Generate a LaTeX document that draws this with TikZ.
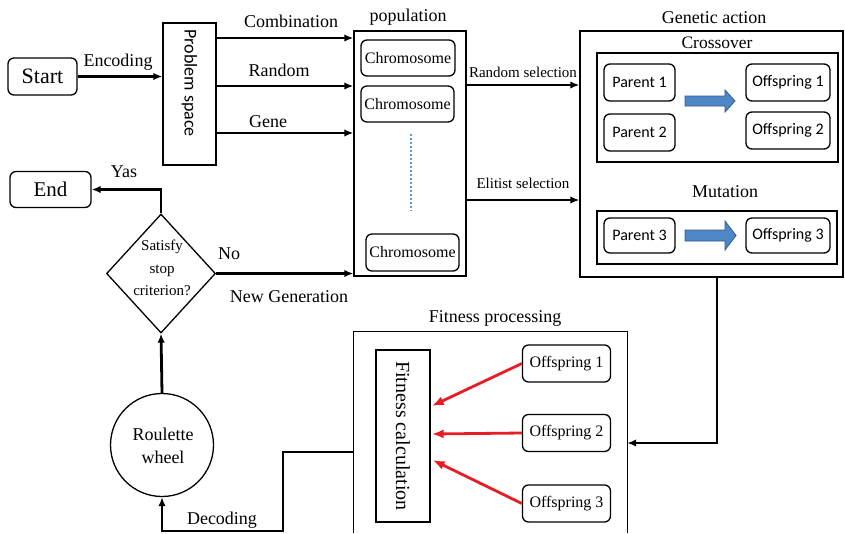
\documentclass[tikz,border=0pt]{standalone}
\usepackage{fontspec}
\setmainfont{Liberation Serif}
\newfontfamily\sansf{Carlito}
\usetikzlibrary{arrows.meta,shapes.geometric,calc}
\definecolor{arrred}{RGB}{232,28,36}
\definecolor{barfill}{RGB}{79,134,198}
\definecolor{bardraw}{RGB}{50,90,140}
\definecolor{dotblue}{RGB}{91,155,213}
\begin{document}
\begin{tikzpicture}[x=1pt,y=-1pt,
  bx/.style={draw, line width=1.3pt, inner sep=0pt},
  rb/.style={bx, rounded corners=6pt},
  arr/.style={line width=2.8pt, -{Latex[length=9pt,width=7.5pt]}},
  redarr/.style={line width=2.8pt, draw=arrred, -{Latex[length=12pt,width=9pt]}},
  lbl/.style={font=\fontsize{18}{20}\selectfont, inner sep=0pt},
  slbl/.style={font=\fontsize{15}{17}\selectfont, inner sep=0pt},
  serif16/.style={font=\fontsize{16}{18}\selectfont},
  sans16/.style={font=\sansf\fontsize{16}{18}\selectfont},
  blockarr/.style={fill=barfill, draw=bardraw, line width=0.8pt}
]
\useasboundingbox (0,0) rectangle (845,533);
\fill[white] (0,0) rectangle (845,533);

% Start / End
\node[rb, minimum width=69pt, minimum height=37pt, font=\fontsize{22}{24}\selectfont] (start) at (42.5,76.5) {Start};
\node[rb, minimum width=81pt, minimum height=36pt, font=\fontsize{21}{23}\selectfont] (end) at (50.5,189.5) {End};

% Problem space
\node[bx, minimum width=53pt, minimum height=142pt] (ps) at (189.5,94) {};
\node[rotate=-90, font=\sansf\fontsize{18}{20}\selectfont, inner sep=0pt] (pstext) at (189.5,83) {Problem space};

% Population
\node[bx, minimum width=112pt, minimum height=245pt] (pop) at (410,153.5) {};
\node[lbl] (poptitle) at (408,17) {population};
\node[rb, serif16, minimum width=94pt, minimum height=36pt] (ch1) at (408,58) {Chromosome};
\node[rb, serif16, minimum width=93pt, minimum height=36pt] (ch2) at (407.5,104) {Chromosome};
\node[rb, serif16, minimum width=93pt, minimum height=37pt] (ch3) at (412.5,252.5) {Chromosome};
\coordinate (dtop) at (411,134);
\coordinate (dbot) at (411,211);
\draw[dotblue, line width=2.4pt, dash pattern=on 1.8pt off 2.2pt] (dtop) -- (dbot);

% Genetic action
\node[bx, minimum width=263pt, minimum height=246pt] (gen) at (711.5,154) {};
\node[lbl] (gentitle) at (714,18) {Genetic action};
\node[bx, minimum width=241pt, minimum height=109pt] (cross) at (717.5,107.5) {};
\node[lbl, font=\fontsize{17.5}{20}\selectfont] (crosstitle) at (717,43) {Crossover};
\node[rb, sans16, minimum width=71pt, minimum height=37pt] (p1) at (639.5,82.5) {Parent 1};
\node[rb, sans16, minimum width=71pt, minimum height=37pt] (p2) at (639.5,132.5) {Parent 2};
\node[rb, sans16, minimum width=84pt, minimum height=37pt] (o1) at (788,82.5) {Offspring 1};
\node[rb, sans16, minimum width=84pt, minimum height=37pt] (o2) at (788,130.5) {Offspring 2};
\draw[blockarr] (685,96) -- (725,96) -- (725,90) -- (735,101) -- (725,112) -- (725,106) -- (685,106) -- cycle;

\node[lbl] (muttitle) at (725,192) {Mutation};
\node[bx, minimum width=240pt, minimum height=53pt] (mut) at (717,237.5) {};
\node[rb, sans16, minimum width=71pt, minimum height=35pt] (p3) at (639.5,235.5) {Parent 3};
\node[rb, sans16, minimum width=84pt, minimum height=35pt] (o3) at (788,235.5) {Offspring 3};
\draw[blockarr] (685,230) -- (725,230) -- (725,221) -- (736,235.5) -- (725,250) -- (725,241) -- (685,241) -- cycle;

% Fitness processing
\node[inner sep=0pt, minimum width=273pt, minimum height=201pt] (fit) at (490.5,432.5) {};
\draw[line width=1.3pt] (fit.south west) -- (fit.north west) -- (fit.north east) -- (fit.south east);
\node[lbl] (fittitle) at (495,318) {Fitness processing};
\node[bx, minimum width=54pt, minimum height=172pt] (calc) at (403,436) {};
\node[rotate=-90, font=\fontsize{20}{22}\selectfont, inner sep=0pt] (calctext) at (403,436) {Fitness calculation};
\node[rb, serif16, minimum width=88pt, minimum height=37pt] (f1) at (566.5,363.5) {Offspring 1};
\node[rb, serif16, minimum width=88pt, minimum height=37pt] (f2) at (566.5,433) {Offspring 2};
\node[rb, serif16, minimum width=88pt, minimum height=37pt] (f3) at (566.5,503.5) {Offspring 3};
\draw[redarr] (f1.west) -- ($(calc.east)+(1,-30)$);
\draw[redarr] (f2.west) -- ($(calc.east)+(1,-2)$);
\draw[redarr] (f3.west) -- ($(calc.east)+(2,24)$);

% Decision and roulette
\node[draw, line width=1.3pt, circle, minimum size=103pt, inner sep=0pt] (circ) at (162,445) {};
\node[lbl, align=center, font=\fontsize{18}{23}\selectfont] (circtext) at (163,446) {Roulette\\wheel};
\node[draw, line width=1.3pt, diamond, minimum width=109pt, minimum height=119pt, inner sep=0pt] (dec) at (161,273.5) {};
\node[align=center, inner sep=0pt, font=\fontsize{15}{22.5}\selectfont] (dectext) at (162,268) {Satisfy\\stop\\criterion?};

% Connectors
\draw[arr] (start.east) -- (start.east -| ps.west);
\node[lbl] (lenc) at (118,62) {Encoding};

\coordinate (c1) at ($(ps.east)+(0,-56)$);
\coordinate (c2) at ($(ps.east)+(0,-8)$);
\coordinate (c3) at ($(ps.east)+(0,39)$);
\draw[arr] (c1) -- (c1 -| pop.west);
\draw[arr] (c2) -- (c2 -| pop.west);
\draw[arr] (c3) -- (c3 -| pop.west);
\node[lbl] (lcomb) at (291,21) {Combination};
\node[lbl] (lrand) at (279,70) {Random};
\node[lbl] (lgene) at (268,122) {Gene};

\coordinate (s1) at ($(pop.east)+(0,-68.5)$);
\coordinate (s2) at ($(pop.east)+(0,46.5)$);
\draw[arr] (s1) -- (s1 -| gen.west);
\draw[arr] (s2) -- (s2 -| gen.west);
\node[slbl] (lrs) at (523,72) {Random selection};
\node[slbl] (les) at (523,183) {Elitist selection};

\coordinate (gdown) at (717,277);
\coordinate (fin) at ($(fit.east)+(0,10.5)$);
\draw[arr] (gdown) |- (fin);

\coordinate (fout) at ($(fit.west)+(0,19.5)$);
\coordinate (b1) at (283,452);
\coordinate (b2) at (283,531);
\draw[arr] (fout) -- (b1) -- (b2) -| (circ.south);
\node[lbl] (ldec) at (222,520) {Decoding};

\draw[arr] (circ.north) -- (dec.south);
\draw[arr] (dec.north) |- (end.east);
\node[lbl] (lyas) at (124,172) {Yas};
\draw[arr] (dec.east) -- (dec.east -| pop.west);
\node[lbl] (lno) at (229,254) {No};
\node[lbl] (lng) at (289,297) {New Generation};
\end{tikzpicture}
\end{document}
